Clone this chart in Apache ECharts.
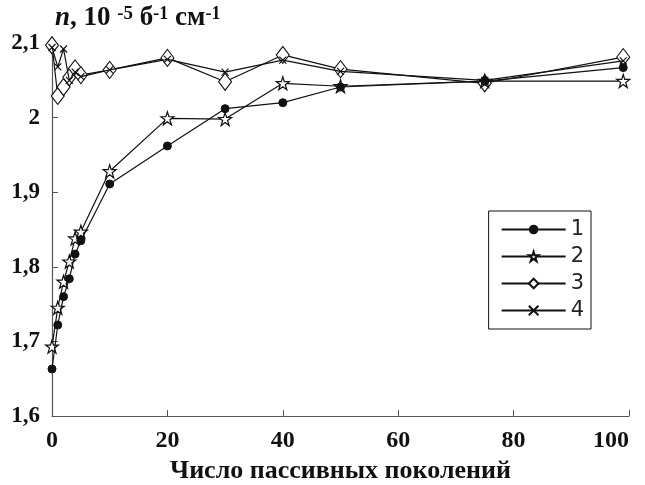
<!DOCTYPE html>
<html><head><meta charset="utf-8">
<script src="https://cdn.jsdelivr.net/npm/echarts@6/dist/echarts.min.js"></script>
<style>html,body{margin:0;padding:0;background:#fff}#c{width:645px;height:485px}</style>
</head><body><div id="c"></div>
<script>
const generations = [0, 1, 2, 3, 4, 5, 10, 20, 30, 40, 50, 75, 99];
const series1 = [1.663, 1.722, 1.760, 1.784, 1.817, 1.835, 1.911, 1.962, 2.012, 2.020, 2.041, 2.049, 2.067];
const series2 = [1.693, 1.745, 1.780, 1.807, 1.838, 1.847, 1.928, 1.999, 1.998, 2.046, 2.042, 2.049, 2.049];
const series3 = [2.097, 2.029, 2.041, 2.054, 2.066, 2.057, 2.064, 2.080, 2.048, 2.084, 2.065, 2.046, 2.081];
const series4 = [2.094, 2.068, 2.092, 2.050, 2.061, 2.055, 2.064, 2.078, 2.061, 2.077, 2.062, 2.050, 2.076];
const seriesNames = ['1', '2', '3', '4'];
const yTicks = [1.6, 1.7, 1.8, 1.9, 2.0, 2.1];

const starPath = 'path://M50,2 L61,36 L97,36 L68,57 L79,92 L50,71 L21,92 L32,57 L3,36 L39,36 Z';
const crossPath = 'path://M0,0 L10,10 M0,10 L10,0';

function pairs(arr) { return generations.map((g, i) => [g, arr[i]]); }

const chart = echarts.init(document.getElementById('c'));
const serif = '"Liberation Serif", "Times New Roman", serif';
const lineStyle = { color: '#111', width: 1.2 };
chart.setOption({
  animation: false,
  backgroundColor: '#fff',
  grid: { left: 52, right: 16, top: 43, bottom: 69, containLabel: false, outerBoundsMode: 'none' },
  title: {
    left: 50, top: 0,
    text: '{i|n}{b|, 10 }{s|-5}{b| б}{t|-1}{b| см}{t|-1}',
    textStyle: {
      rich: {
        i: { fontFamily: serif, fontStyle: 'italic', fontWeight: 'bold', fontSize: 27, color: '#111' },
        b: { fontFamily: serif, fontWeight: 'bold', fontSize: 27, color: '#111' },
        s: { fontFamily: serif, fontWeight: 'bold', fontSize: 19, color: '#111', verticalAlign: 'top', padding: [0, 0, 8, 0] },
        t: { fontFamily: serif, fontWeight: 'bold', fontSize: 18, color: '#111', verticalAlign: 'top', padding: [0, 0, 5, 0] }
      }
    }
  },
  legend: {
    orient: 'vertical',
    right: 54, bottom: 156,
    data: seriesNames,
    itemWidth: 64, itemHeight: 12, itemGap: 6,
    padding: [8, 7, 8, 12],
    borderColor: '#111', borderWidth: 1,
    textStyle: { fontFamily: '"DejaVu Sans", sans-serif', fontSize: 21, color: '#222' }
  },
  xAxis: {
    type: 'value', min: 0, max: 100, interval: 20,
    name: 'Число пассивных поколений',
    nameLocation: 'middle', nameGap: 41,
    nameTextStyle: { fontFamily: serif, fontWeight: 'bold', fontSize: 26, color: '#111' },
    axisLine: { lineStyle: { color: '#555', width: 1.2 } },
    axisTick: { inside: true, length: 6, lineStyle: { color: '#555' } },
    axisLabel: { fontFamily: serif, fontWeight: 'bold', fontSize: 24, color: '#111', margin: 13, alignMaxLabel: 'right' },
    splitLine: { show: false }
  },
  yAxis: {
    type: 'value', min: 1.6, max: 2.1, interval: 0.1,
    axisLine: { show: true, lineStyle: { color: '#555', width: 1.2 } },
    axisTick: { show: true, inside: true, length: 6, lineStyle: { color: '#555' } },
    axisLabel: {
      fontFamily: serif, fontWeight: 'bold', fontSize: 23, color: '#111', margin: 12,
      formatter: v => {
        const t = yTicks.find(x => Math.abs(x - v) < 1e-6);
        return (t === undefined ? v : t).toFixed(1).replace(/\.0$/, '').replace('.', ',');
      }
    },
    splitLine: { show: false }
  },
  series: [
    { name: '1', type: 'line', data: pairs(series1), symbol: 'circle', symbolSize: 8,
      itemStyle: { color: '#111', borderColor: '#111' }, lineStyle, z: 4 },
    { name: '2', type: 'line', data: pairs(series2), symbol: starPath, symbolSize: 13,
      itemStyle: { color: '#fff', borderColor: '#111', borderWidth: 1.2 }, lineStyle, z: 3 },
    { name: '3', type: 'line', data: pairs(series3), symbol: 'diamond', symbolSize: [13, 17],
      itemStyle: { color: '#fff', borderColor: '#111', borderWidth: 1.1 }, lineStyle, z: 2 },
    { name: '4', type: 'line', data: pairs(series4), symbol: crossPath, symbolSize: 7,
      itemStyle: { color: 'none', borderColor: '#111', borderWidth: 1.2 }, lineStyle, z: 5 }
  ]
});
</script></body></html>
